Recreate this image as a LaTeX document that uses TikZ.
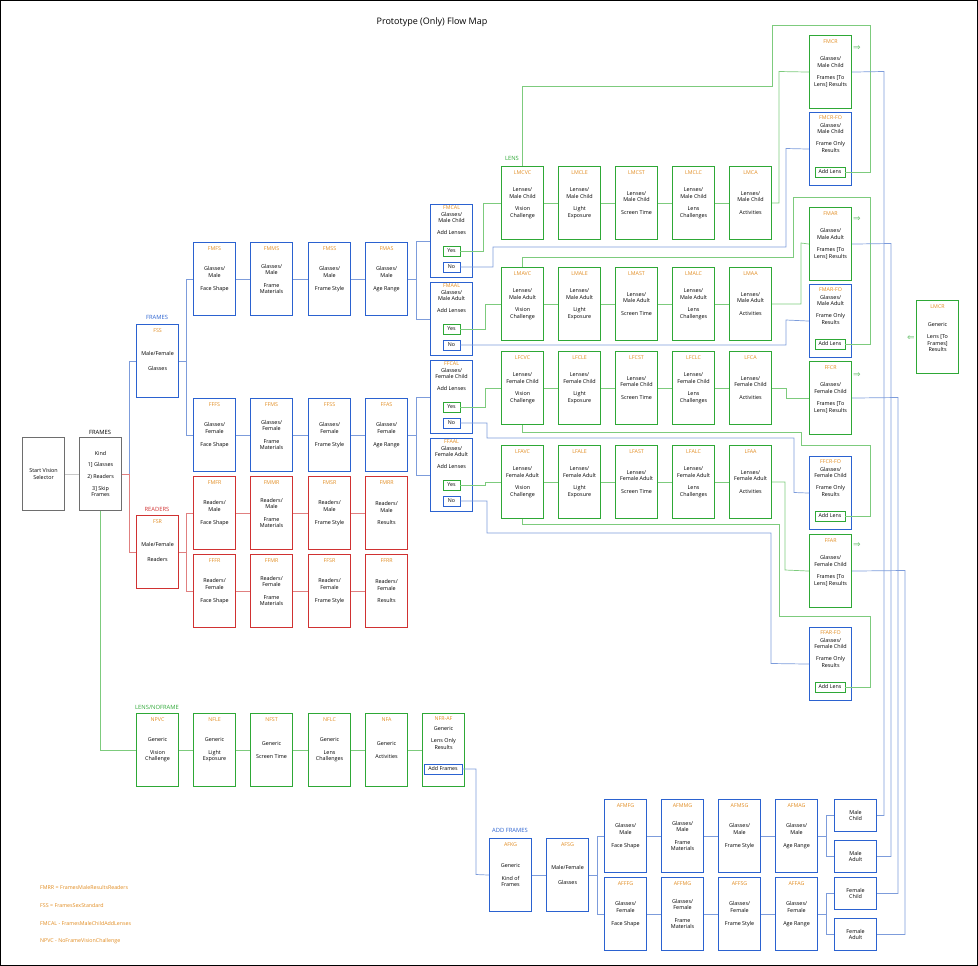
\documentclass[tikz,border=0pt]{standalone}
\usepackage{fontspec}
\setmainfont{Open Sans}
\newfontfamily\symf{DejaVu Sans}
\usetikzlibrary{positioning}
\definecolor{bluC}{HTML}{2B62D0}
\definecolor{grnC}{HTML}{2EA836}
\definecolor{redC}{HTML}{D03232}
\definecolor{gryC}{HTML}{6E6E6E}
\definecolor{bluL}{HTML}{7D9CDB}
\definecolor{grnL}{HTML}{7DCB7D}
\definecolor{redL}{HTML}{E08080}
\definecolor{gryL}{HTML}{C8C8C8}
\definecolor{orgC}{HTML}{E08A1E}
\tikzset{
  fbox/.style={rectangle, draw, line width=1.1pt, minimum width=42pt, minimum height=73pt, inner sep=0pt},
  code/.style={text=orgC, font=\fontsize{5.3}{6}\selectfont, inner sep=0pt},
  txt/.style={align=center, font=\fontsize{5.4}{6.6}\selectfont, inner sep=0pt},
  hdr/.style={font=\fontsize{5.8}{6}\selectfont, inner sep=0pt},
  yn/.style={rectangle, draw, line width=0.6pt, minimum width=17pt, minimum height=10pt, inner sep=0pt, font=\fontsize{5.3}{6}\selectfont},
  smb/.style={text=grnC!70, font=\symf\fontsize{9}{9}\selectfont, inner sep=0pt},
  bl/.style={draw=bluL, line width=0.7pt},
  gl/.style={draw=grnL, line width=0.7pt},
  rl/.style={draw=redL, line width=0.7pt},
  yl/.style={draw=gryL, line width=0.7pt},
  lgd/.style={text=orgC, font=\fontsize{5.3}{6}\selectfont, anchor=west, inner sep=0pt}
}
% box: [opts]{name}{colour}{x}{y}{code}{text}
\newcommand{\fb}[7][]{%
  \node[fbox, draw=#3, anchor=north west, #1] (#2) at (#4,#5) {};
  \node[code] (#2-c) at ([yshift=-7pt]#2.north) {#6};
  \node[txt] (#2-t) at (#2.center) {#7};}
% add-lenses box with yes/no
\newcommand{\alb}[4]{%
  \node[fbox, draw=bluC, anchor=north west] (#1) at (430,#2) {};
  \node[code] (#1-c) at ([yshift=-4pt]#1.north) {#3};
  \node[txt, anchor=north] (#1-t) at ([yshift=-8pt]#1.north) {#4\\[5pt]Add Lenses};
  \node[yn, draw=grnC] (#1Y) at (451.5,#2+47) {Yes};
  \node[yn, draw=bluC] (#1N) at (451.5,#2+63) {No};}
% frame only results with add lens
\newcommand{\fob}[4]{%
  \node[fbox, draw=bluC, anchor=north west] (#1) at (809,#2) {};
  \node[code] (#1-c) at ([yshift=-6pt]#1.north) {#3};
  \node[txt, anchor=north] (#1-t) at ([yshift=-11pt]#1.north) {#4\\[5pt]Frame Only\\Results};
  \node[yn, draw=grnC, minimum width=30pt] (#1L) at (830,#2+60) {Add Lens};}

\begin{document}
\begin{tikzpicture}[x=1pt, y=-1pt]
  \useasboundingbox (0,0) rectangle (978,966);
  \draw[line width=2pt] (0,0) rectangle (978,966);
  \node[font=\fontsize{9}{10}\selectfont] (title) at (432,22) {Prototype (Only) Flow Map};

  % start and kind
  \fb{start}{gryC}{22}{437}{}{Start Vision\\Selector}
  \fb{kind}{gryC}{79}{437}{}{Kind\\[5pt]1] Glasses\\[5pt]2) Readers\\[5pt]3] Skip\\Frames}
  \node[hdr] (h-kind) at (100,432) {FRAMES};
  \node[hdr, text=bluC] (h-frames) at (157,317) {FRAMES};
  \node[hdr, text=redC] (h-readers) at (157,509) {READERS};
  \node[hdr, text=grnC] (h-lens) at (512,158) {LENS};
  \node[hdr, text=grnC] (h-nofr) at (157,707) {LENS/NOFRAME};
  \node[hdr, text=bluC] (h-addfr) at (510,830) {ADD FRAMES};

  \fb{fss}{bluC}{136}{324}{FSS}{Male/Female\\[8pt]Glasses}
  \fb{fsr}{redC}{136}{515}{FSR}{Male/Female\\[8pt]Readers}

  % frames male / female
  \fb{fmfs}{bluC}{193}{242}{FMFS}{Glasses/\\Male\\[6pt]Face Shape}
  \fb{fmms}{bluC}{250}{242}{FMMS}{Glasses/\\Male\\[6pt]Frame\\Materials}
  \fb{fmss}{bluC}{308}{242}{FMSS}{Glasses/\\Male\\[6pt]Frame Style}
  \fb{fmas}{bluC}{365}{242}{FMAS}{Glasses/\\Male\\[6pt]Age Range}
  \fb{fffs}{bluC}{193}{398}{FFFS}{Glasses/\\Female\\[6pt]Face Shape}
  \fb{ffms}{bluC}{250}{398}{FFMS}{Glasses/\\Female\\[6pt]Frame\\Materials}
  \fb{ffss}{bluC}{308}{398}{FFSS}{Glasses/\\Female\\[6pt]Frame Style}
  \fb{ffas}{bluC}{365}{398}{FFAS}{Glasses/\\Female\\[6pt]Age Range}
  % readers
  \fb{fmfr}{redC}{193}{476}{FMFR}{Readers/\\Male\\[6pt]Face Shape}
  \fb{fmmr}{redC}{250}{476}{FMMR}{Readers/\\Male\\[6pt]Frame\\Materials}
  \fb{fmsr}{redC}{308}{476}{FMSR}{Readers/\\Male\\[6pt]Frame Style}
  \fb{fmrr}{redC}{365}{476}{FMRR}{Readers/\\Male\\[6pt]Results}
  \fb{fffr}{redC}{193}{554}{FFFR}{Readers/\\Female\\[6pt]Face Shape}
  \fb{ffmr}{redC}{250}{554}{FFMR}{Readers/\\Female\\[6pt]Frame\\Materials}
  \fb{ffsr}{redC}{308}{554}{FFSR}{Readers/\\Female\\[6pt]Frame Style}
  \fb{ffrr}{redC}{365}{554}{FFRR}{Readers/\\Female\\[6pt]Results}

  % add lenses
  \alb{fmcal}{204}{FMCAL}{Glasses/\\Male Child}
  \alb{fmaal}{282}{FMAAL}{Glasses/\\Male Adult}
  \alb{ffcal}{360}{FFCAL}{Glasses/\\Female Child}
  \alb{ffaal}{438}{FFAAL}{Glasses/\\Female Adult}

  % lens rows
  \fb{lmcvc}{grnC}{501}{166}{LMCVC}{Lenses/\\Male Child\\[6pt]Vision\\Challenge}
  \fb{lmcle}{grnC}{558}{166}{LMCLE}{Lenses/\\Male Child\\[6pt]Light\\Exposure}
  \fb{lmcst}{grnC}{615}{166}{LMCST}{Lenses/\\Male Child\\[6pt]Screen Time}
  \fb{lmclc}{grnC}{672}{166}{LMCLC}{Lenses/\\Male Child\\[6pt]Lens\\Challenges}
  \fb{lmca}{grnC}{729}{166}{LMCA}{Lenses/\\Male Child\\[6pt]Activities}
  \fb{lmavc}{grnC}{501}{267}{LMAVC}{Lenses/\\Male Adult\\[6pt]Vision\\Challenge}
  \fb{lmale}{grnC}{558}{267}{LMALE}{Lenses/\\Male Adult\\[6pt]Light\\Exposure}
  \fb{lmast}{grnC}{615}{267}{LMAST}{Lenses/\\Male Adult\\[6pt]Screen Time}
  \fb{lmalc}{grnC}{672}{267}{LMALC}{Lenses/\\Male Adult\\[6pt]Lens\\Challenges}
  \fb{lmaa}{grnC}{729}{267}{LMAA}{Lenses/\\Male Adult\\[6pt]Activities}
  \fb{lfcvc}{grnC}{501}{351}{LFCVC}{Lenses/\\Female Child\\[6pt]Vision\\Challenge}
  \fb{lfcle}{grnC}{558}{351}{LFCLE}{Lenses/\\Female Child\\[6pt]Light\\Exposure}
  \fb{lfcst}{grnC}{615}{351}{LFCST}{Lenses/\\Female Child\\[6pt]Screen Time}
  \fb{lfclc}{grnC}{672}{351}{LFCLC}{Lenses/\\Female Child\\[6pt]Lens\\Challenges}
  \fb{lfca}{grnC}{729}{351}{LFCA}{Lenses/\\Female Child\\[6pt]Activities}
  \fb{lfavc}{grnC}{501}{445}{LFAVC}{Lenses/\\Female Adult\\[6pt]Vision\\Challenge}
  \fb{lfale}{grnC}{558}{445}{LFALE}{Lenses/\\Female Adult\\[6pt]Light\\Exposure}
  \fb{lfast}{grnC}{615}{445}{LFAST}{Lenses/\\Female Adult\\[6pt]Screen Time}
  \fb{lfalc}{grnC}{672}{445}{LFALC}{Lenses/\\Female Adult\\[6pt]Lens\\Challenges}
  \fb{lfaa}{grnC}{729}{445}{LFAA}{Lenses/\\Female Adult\\[6pt]Activities}

  % results
  \fb{fmcr}{grnC}{809}{35}{FMCR}{Glasses/\\Male Child\\[6pt]Frames [To\\Lens] Results}
  \fob{fmcrfo}{112}{FMCR-FO}{Glasses/\\Male Child}
  \fb{fmar}{grnC}{809}{207}{FMAR}{Glasses/\\Male Adult\\[6pt]Frames [To\\Lens] Results}
  \fob{fmarfo}{284}{FMAR-FO}{Glasses/\\Male Adult}
  \fb{ffcr}{grnC}{809}{361}{FFCR}{Glasses/\\Female Child\\[6pt]Frames [To\\Lens] Results}
  \fob{ffcrfo}{456}{FFCR-FO}{Glasses/\\Female Child}
  \fb{ffar}{grnC}{809}{534}{FFAR}{Glasses/\\Female Child\\[6pt]Frames [To\\Lens] Results}
  \fob{ffarfo}{627}{FFAR-FO}{Glasses/\\Female Child}
  \fb{lmcr}{grnC}{916}{300}{LMCR}{Generic\\[6pt]Lens [To\\Frames]\\Results}
  \node[smb] (fmcr-s) at (857,48) {⇒};
  \node[smb] (fmar-s) at (857,219) {⇒};
  \node[smb] (ffcr-s) at (857,375) {⇒};
  \node[smb] (ffar-s) at (857,545) {⇒};
  \node[smb] (lmcr-s) at (911,338) {⇐};

  % no frame lens
  \fb{npvc}{grnC}{136}{713}{NPVC}{Generic\\[6pt]Vision\\Challenge}
  \fb{nfle}{grnC}{193}{713}{NFLE}{Generic\\[6pt]Light\\Exposure}
  \fb{nfst}{grnC}{250}{713}{NFST}{Generic\\[6pt]Screen Time}
  \fb{nflc}{grnC}{308}{713}{NFLC}{Generic\\[6pt]Lens\\Challenges}
  \fb{nfa}{grnC}{365}{713}{NFA}{Generic\\[6pt]Activities}
  \node[fbox, draw=grnC, anchor=north west] (nfraf) at (422,713) {};
  \node[code] (nfraf-c) at ([yshift=-6pt]nfraf.north) {NFR-AF};
  \node[txt, anchor=north] (nfraf-t) at ([yshift=-13pt]nfraf.north) {Generic\\[6pt]Lens Only\\Results};
  \node[yn, draw=bluC, minimum width=38pt] (nfrafF) at (443,769) {Add Frames};

  % add frames
  \fb{afkg}{bluC}{489}{838}{AFKG}{Generic\\[6pt]Kind of\\Frames}
  \fb{afsg}{bluC}{546}{838}{AFSG}{Male/Female\\[8pt]Glasses}
  \fb{afmfg}{bluC}{604}{799}{AFMFG}{Glasses/\\Male\\[6pt]Face Shape}
  \fb{afmmg}{bluC}{661}{799}{AFMMG}{Glasses/\\Male\\[6pt]Frame\\Materials}
  \fb{afmsg}{bluC}{718}{799}{AFMSG}{Glasses/\\Male\\[6pt]Frame Style}
  \fb{afmag}{bluC}{775}{799}{AFMAG}{Glasses/\\Male\\[6pt]Age Range}
  \fb{afffg}{bluC}{604}{877}{AFFFG}{Glasses/\\Female\\[6pt]Face Shape}
  \fb{affmg}{bluC}{661}{877}{AFFMG}{Glasses/\\Female\\[6pt]Frame\\Materials}
  \fb{affsg}{bluC}{718}{877}{AFFSG}{Glasses/\\Female\\[6pt]Frame Style}
  \fb{affag}{bluC}{775}{877}{AFFAG}{Glasses/\\Female\\[6pt]Age Range}
  \fb[minimum height=32pt]{mchild}{bluC}{834}{799}{}{Male\\Child}
  \fb[minimum height=32pt]{madult}{bluC}{834}{840}{}{Male\\Adult}
  \fb[minimum height=32pt]{fchild}{bluC}{834}{877}{}{Female\\Child}
  \fb[minimum height=32pt]{fadult}{bluC}{834}{918}{}{Female\\Adult}

  % legend
  \node[lgd] (lg1) at (40,888) {FMRR = FramesMaleResultsReaders};
  \node[lgd] (lg2) at (40,906) {FSS = FramesSexStandard};
  \node[lgd] (lg3) at (40,924) {FMCAL - FramesMaleChildAddLenses};
  \node[lgd] (lg4) at (40,941) {NPVC - NoFrameVisionChallenge};

  % connectors
  \draw[yl] (start) -- (kind);
  \draw[bl] (kind.east) -- ++(7,0) |- (fss.west);
  \draw[rl] (kind.east) -- ++(7,0) |- (fsr.west);
  \draw[gl] (kind.south) |- (npvc.west);
  \draw[bl] (fss.east) -- ++(7,0) |- (fmfs.west);
  \draw[bl] (fss.east) -- ++(7,0) |- (fffs.west);
  \draw[rl] (fsr.east) -- ++(7,0) |- (fmfr.west);
  \draw[rl] (fsr.east) -- ++(7,0) |- (fffr.west);
  \draw[bl] (fmfs) -- (fmms) -- (fmss) -- (fmas);
  \draw[bl] (fffs) -- (ffms) -- (ffss) -- (ffas);
  \draw[rl] (fmfr) -- (fmmr) -- (fmsr) -- (fmrr);
  \draw[rl] (fffr) -- (ffmr) -- (ffsr) -- (ffrr);
  \draw[bl] (fmas.east) -- ++(8,0) |- (fmcal.west);
  \draw[bl] (fmas.east) -- ++(8,0) |- (fmaal.west);
  \draw[bl] (ffas.east) -- ++(8,0) |- (ffcal.west);
  \draw[bl] (ffas.east) -- ++(8,0) |- (ffaal.west);
  \draw[gl] (fmcalY.east) -- ++(23,0) |- (lmcvc.west);
  \draw[gl] (fmaalY.east) -- ++(25,0) |- (lmavc.west);
  \draw[gl] (ffcalY.east) -- ++(25,0) |- (lfcvc.west);
  \draw[gl] (ffaalY.east) -- ++(25,0) |- (lfavc.west);
  \draw[gl] (lmcvc) -- (lmcle) -- (lmcst) -- (lmclc) -- (lmca);
  \draw[gl] (lmavc) -- (lmale) -- (lmast) -- (lmalc) -- (lmaa);
  \draw[gl] (lfcvc) -- (lfcle) -- (lfcst) -- (lfclc) -- (lfca);
  \draw[gl] (lfavc) -- (lfale) -- (lfast) -- (lfalc) -- (lfaa);
  % lens to results
  \draw[gl] (lmca.east) -| (779,71.5) -- (fmcr.west);
  \draw[gl] (lmaa.east) -| (801,243) -- (fmar.west);
  \draw[gl] (lfca.east) -- ++(14,0) |- (ffcr.west);
  \draw[gl] (lfaa.east) -| (785,570) -- (ffar.west);
  % add lens back
  \draw[gl] (fmcrfoL.east) -| (870,25) -| (772,86) -| (lmcvc.north);
  \draw[gl] (fmarfoL.east) -| (870,197) -| (793,257) -| (lmavc.north);
  \draw[gl] (ffcrfoL.east) -| (870,445) -| (801,432) -| (lfcvc.south);
  \draw[gl] (ffarfoL.east) -| (870,616) -| (779,524) -| (lfavc.south);
  % no lenses
  \draw[bl] (fmcalN.east) -| (493,247) -| (786,148.5) -- (fmcrfo.west);
  \draw[bl] (fmaalN.east) -| (786,320) -- (fmarfo.west);
  \draw[bl] (ffcalN.east) -| (487,438) -| (794,492.5) -- (ffcrfo.west);
  \draw[bl] (ffaalN.east) -| (487,533) -| (771,663.5) -- (ffarfo.west);
  % results to add frames ends
  \draw[bl] (fmcr.east) -- (884,71.5) |- (mchild.east);
  \draw[bl] (fmar.east) -- (891,243.5) |- (madult.east);
  \draw[bl] (ffcr.east) -- (898,397.5) |- (fchild.east);
  \draw[bl] (ffar.east) -- (905,570.5) |- (fadult.east);
  % no frame chain
  \draw[gl] (npvc) -- (nfle) -- (nfst) -- (nflc) -- (nfa) -- (nfraf);
  \draw[bl] (nfrafF.east) -| (476,874.5) -- (afkg.west);
  \draw[bl] (afkg) -- (afsg);
  \draw[bl] (afsg.east) -- ++(8,0) |- (afmfg.west);
  \draw[bl] (afsg.east) -- ++(8,0) |- (afffg.west);
  \draw[bl] (afmfg) -- (afmmg) -- (afmsg) -- (afmag);
  \draw[bl] (afffg) -- (affmg) -- (affsg) -- (affag);
  \draw[bl] (afmag.east) -- ++(8,0) |- (mchild.west);
  \draw[bl] (afmag.east) -- ++(8,0) |- (madult.west);
  \draw[bl] (affag.east) -- ++(8,0) |- (fchild.west);
  \draw[bl] (affag.east) -- ++(8,0) |- (fadult.west);
\end{tikzpicture}
\end{document}
